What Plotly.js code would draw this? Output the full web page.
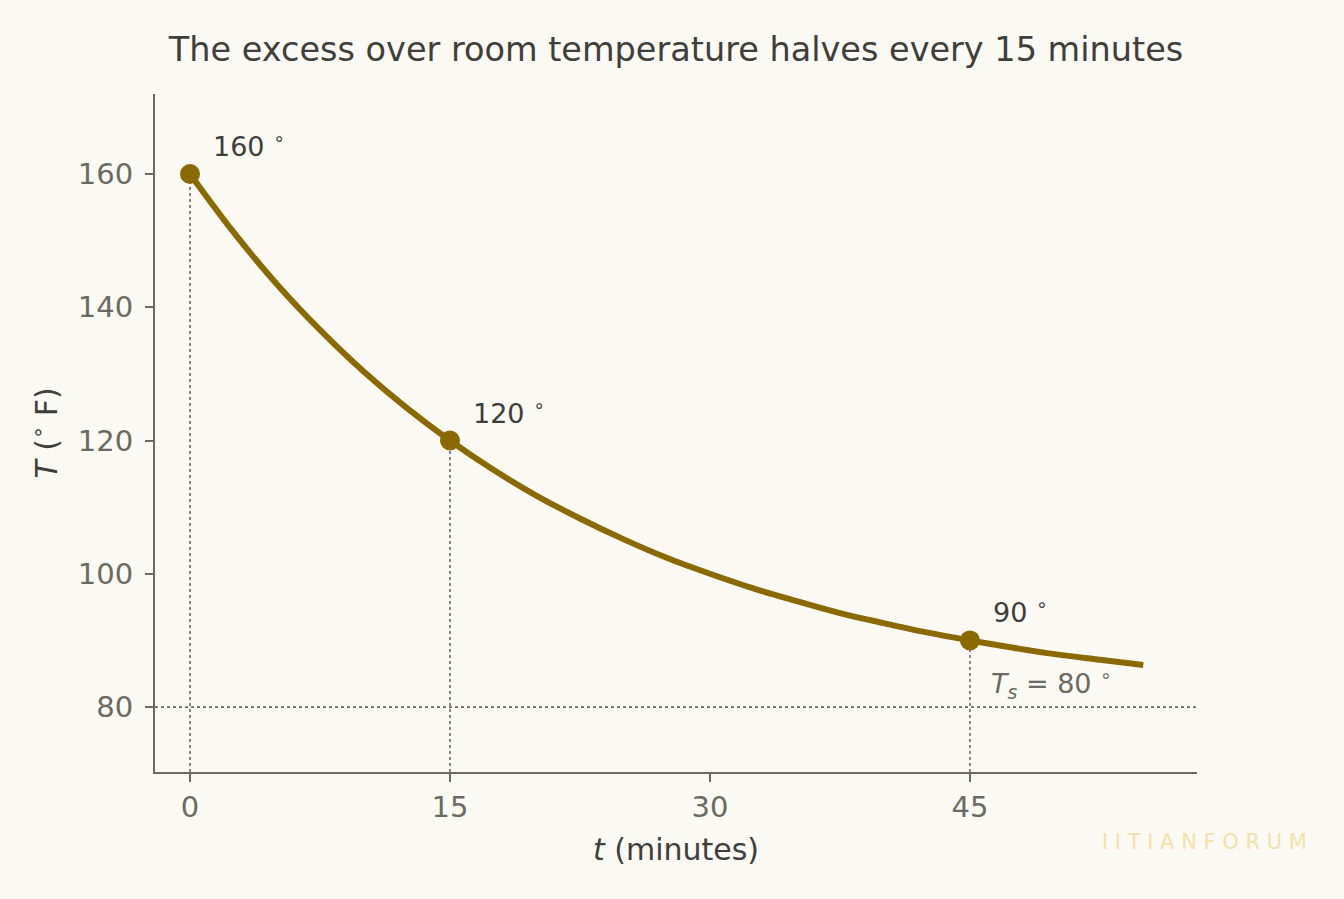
<!DOCTYPE html>
<html><head><meta charset="utf-8">
<script src="https://cdn.plot.ly/plotly-3.0.1.min.js"></script>
<style>html,body{margin:0;padding:0;background:#faf9f4;}#chart{width:1344px;height:899px;}</style>
</head><body><div id="chart"></div>
<script>
// curve values (minutes, °F)
const curveT = [0, 2.5, 5, 7.5, 10, 12.5, 15, 17.5, 20, 22.5, 25, 27.5, 30, 32.5, 35, 37.5, 40, 42.5, 45, 47.5, 50, 52.5, 55];
const curveTemp = [160, 151.3, 143.5, 136.6, 130.4, 124.9, 120, 115.6, 111.7, 108.3, 105.2, 102.4, 100, 97.8, 95.9, 94.1, 92.6, 91.2, 90, 88.9, 87.9, 87.1, 86.3];
const markT = [0, 15, 45];
const markTemp = [160, 120, 90];
const markLabels = ['160 <sup>∘</sup>', '120 <sup>∘</sup>', '90 <sup>∘</sup>'];
const ambient = 80;
const xTicks = [0, 15, 30, 45];
const yTicks = [80, 100, 120, 140, 160];

const gold = '#8a6a00';
const grey = '#6b6a60';
const dark = '#3f3e3a';
const font = 'DejaVu Sans, sans-serif';
const xRange = [-2.02, 58.1];
const yRange = [70.25, 172.0];

const traces = [];
markT.forEach((t, i) => {
  traces.push({x: [t, t], y: [yRange[0], markTemp[i]], mode: 'lines', line: {color: grey, width: 1.6, dash: 'dot'}, hoverinfo: 'skip', showlegend: false});
});
traces.push({x: xRange, y: [ambient, ambient], mode: 'lines', line: {color: grey, width: 1.8, dash: 'dot'}, hoverinfo: 'skip', showlegend: false});
traces.push({x: curveT, y: curveTemp, mode: 'lines', line: {color: gold, width: 6, shape: 'spline'}, showlegend: false});
traces.push({x: markT, y: markTemp, mode: 'markers', marker: {color: gold, size: 20}, showlegend: false});

const annotations = markT.map((t, i) => ({
  x: t, y: markTemp[i], xref: 'x', yref: 'y', text: markLabels[i], showarrow: false,
  xanchor: 'left', yanchor: 'bottom', xshift: 21, yshift: 10,
  font: {family: font, size: 27, color: dark}
}));
annotations.push({x: 45, y: ambient, xref: 'x', yref: 'y', text: '<i>T<sub>s</sub></i> = 80 <sup>∘</sup>', showarrow: false,
  xanchor: 'left', yanchor: 'bottom', xshift: 19, yshift: 2, font: {family: font, size: 27, color: grey}});
annotations.push({x: (1204 - 155) / 1042, y: (772 - 842) / 678, xref: 'paper', yref: 'paper',
  text: 'I I T I A N F O R U M', showarrow: false, xanchor: 'center', yanchor: 'middle',
  font: {family: font, size: 21, color: '#f3e2a8'}});

const layout = {
  width: 1344, height: 899,
  paper_bgcolor: '#faf9f4', plot_bgcolor: '#faf9f4',
  margin: {l: 155, r: 147, t: 94, b: 127},
  title: {text: 'The excess over room temperature halves every 15 minutes', font: {family: font, size: 33.5, color: dark}, x: 0.5, xref: 'paper', y: 0.945, yanchor: 'middle'},
  xaxis: {range: xRange, tickvals: xTicks, ticktext: xTicks.map(String), showgrid: false, zeroline: false,
    showline: true, linecolor: grey, linewidth: 2, ticks: 'outside', ticklen: 8, tickwidth: 2, tickcolor: grey,
    tickfont: {family: font, size: 29, color: grey}, ticklabelstandoff: 0,
    title: {text: '<i>t</i> (minutes)', font: {family: font, size: 30, color: dark}, standoff: 16}},
  yaxis: {range: yRange, tickvals: yTicks, ticktext: yTicks.map(String), showgrid: false, zeroline: false,
    showline: true, linecolor: grey, linewidth: 2, ticks: 'outside', ticklen: 8, tickwidth: 2, tickcolor: grey,
    tickfont: {family: font, size: 29, color: grey}, ticklabelstandoff: 6,
    title: {text: '<i>T</i> (<sup>∘</sup> F)', font: {family: font, size: 30, color: dark}, standoff: 11}},
  annotations: annotations
};
Plotly.newPlot('chart', traces, layout, {displayModeBar: false, staticPlot: true});
</script></body></html>
